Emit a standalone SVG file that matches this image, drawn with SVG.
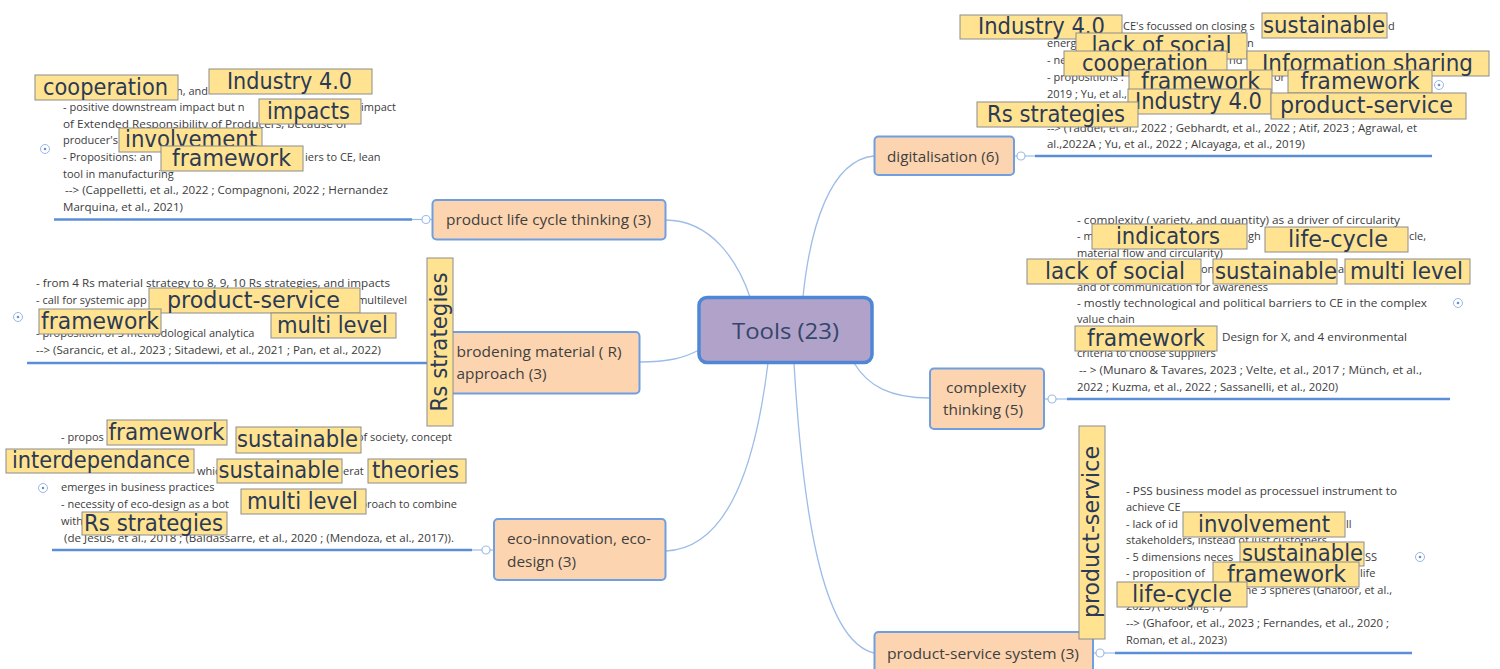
<svg xmlns="http://www.w3.org/2000/svg" width="1500" height="669" viewBox="0 0 1500 669">
<style>
.bg{fill:#ffffff}
.node rect{fill:#fcd5b0;stroke:#6f9fe0;stroke-width:2}
.node text.t{font-family:'Open Sans','Noto Sans',sans-serif;font-size:14px;fill:#3f3f3f}
.root rect{fill:#b1a2c9;stroke:#4f86d6;stroke-width:3.5}
.root text{font-family:'Open Sans','Noto Sans',sans-serif;font-size:22px;fill:#34476b}
.note{font-family:'Open Sans','Noto Sans',sans-serif;font-size:11px;fill:#3c3c3c}
.ul{stroke:#5a8fd8;stroke-width:2.5;fill:none}
.conn path{stroke:#9dbde8;stroke-width:1.3;fill:none}
.dot{fill:#fff;stroke:#9dbde8;stroke-width:1.2}
.exp circle.o{fill:#fff;stroke:#9bb8e0;stroke-width:1}
.exp circle.i{fill:#6f8fc8}
.lbl rect{fill:#ffe391;stroke:#8c8c8c;stroke-width:1}
.lbl text{font-family:'DejaVu Sans Condensed','DejaVu Sans',sans-serif;font-size:23px;fill:#2b3a55;text-anchor:middle}
</style>
<rect class="bg" x="0" y="0" width="1500" height="669"/>

<g id="connectors" class="conn">
  <path d="M665,220 C712,220 738,262 750,297"/>
  <path d="M874,156 C830,160 810,228 803,297"/>
  <path d="M640,362 C668,362 684,358 699,350"/>
  <path d="M666,551 C730,548 756,460 768,363"/>
  <path d="M930,398 C890,398 868,386 854,363"/>
  <path d="M794,363 C802,500 820,640 874,653"/>
</g>

<g id="node-plc">
  <g class="note">
    <text x="176" y="95">n, and</text>
    <text x="63" y="111">- positive downstream impact but n</text>
    <text x="396" y="111" text-anchor="end">impact</text>
    <text x="63" y="128" textLength="284" lengthAdjust="spacingAndGlyphs">of Extended Responsibility of Producers, because of</text>
    <text x="63" y="144">producer's</text>
    <text x="63" y="161">- Propositions: an</text>
    <text x="305" y="161">iers to CE, lean</text>
    <text x="63" y="178">tool in manufacturing</text>
    <text x="65" y="194" textLength="323" lengthAdjust="spacingAndGlyphs">--&gt; (Cappelletti, et al., 2022 ; Compagnoni, 2022 ; Hernandez</text>
    <text x="63" y="211" textLength="120" lengthAdjust="spacingAndGlyphs">Marquina, et al., 2021)</text>
  </g>
  <line class="ul" x1="54" y1="219.5" x2="412" y2="219.5"/>
  <line x1="412" y1="219.5" x2="432" y2="219.5" stroke="#9dbde8" stroke-width="1.2"/>
  <circle class="dot" cx="426" cy="219.5" r="4"/>
  <g class="exp"><circle class="o" cx="45" cy="149" r="4.5"/><circle class="i" cx="45" cy="149" r="1.3"/></g>
  <g class="node"><rect x="432.5" y="200" width="233" height="39.5" rx="4"/>
  <text class="t" x="446" y="225" textLength="205" lengthAdjust="spacingAndGlyphs">product life cycle thinking (3)</text></g>
</g>

<g id="node-broad">
  <g class="note">
    <text x="36" y="287" textLength="354" lengthAdjust="spacingAndGlyphs">- from 4 Rs material strategy to 8, 9, 10 Rs strategies, and impacts</text>
    <text x="36" y="304">- call for systemic app</text>
    <text x="407" y="304" text-anchor="end">multilevel</text>
    <text x="36" y="337">- proposition of 3 methodological analytica</text>
    <text x="36" y="354" textLength="345" lengthAdjust="spacingAndGlyphs">--&gt; (Sarancic, et al., 2023 ; Sitadewi, et al., 2021 ;  Pan, et al., 2022)</text>
  </g>
  <line class="ul" x1="27" y1="363" x2="430" y2="363"/>
  <g class="exp"><circle class="o" cx="18" cy="317" r="4.5"/><circle class="i" cx="18" cy="317" r="1.3"/></g>
  <g class="node"><rect x="441" y="332" width="198.5" height="61.5" rx="4"/>
  <text class="t" x="456.5" y="357" textLength="165" lengthAdjust="spacingAndGlyphs">brodening material ( R)</text>
  <text class="t" x="456.5" y="379" textLength="90" lengthAdjust="spacingAndGlyphs">approach (3)</text></g>
</g>

<g id="node-eco">
  <g class="note">
    <text x="61" y="441">- propos</text>
    <text x="452" y="441" text-anchor="end">of society, concept</text>
    <text x="197" y="475">which</text>
    <text x="343" y="475">erat</text>
    <text x="61" y="491">emerges in business practices</text>
    <text x="61" y="508">- necessity of eco-design as a bot</text>
    <text x="457" y="508" text-anchor="end">approach to combine</text>
    <text x="61" y="525">with</text>
    <text x="64" y="542" textLength="390" lengthAdjust="spacingAndGlyphs">(de Jesus, et al., 2018 ; (Baldassarre, et al., 2020 ; (Mendoza, et al., 2017)).</text>
  </g>
  <line class="ul" x1="52" y1="550" x2="472" y2="550"/>
  <line x1="472" y1="550" x2="494" y2="550" stroke="#9dbde8" stroke-width="1.2"/>
  <circle class="dot" cx="486" cy="550" r="4"/>
  <g class="exp"><circle class="o" cx="43" cy="488" r="4.5"/><circle class="i" cx="43" cy="488" r="1.3"/></g>
  <g class="node"><rect x="494" y="519" width="171.5" height="61" rx="4"/>
  <text class="t" x="507" y="544" textLength="144" lengthAdjust="spacingAndGlyphs">eco-innovation, eco-</text>
  <text class="t" x="507" y="567" textLength="69" lengthAdjust="spacingAndGlyphs">design (3)</text></g>
</g>

<g id="node-digital">
  <g class="note">
    <text x="1123" y="30">CE's focussed on closing s</text>
    <text x="1388" y="30">d</text>
    <text x="1047" y="47">energ</text>
    <text x="1247" y="47">n</text>
    <text x="1047" y="64">- ne</text>
    <text x="1229" y="64">nd</text>
    <text x="1047" y="81">- propositions :</text>
    <text x="1274" y="81">or</text>
    <text x="1047" y="98">2019 ; Yu, et al.,</text>
    <text x="1047" y="132" textLength="370" lengthAdjust="spacingAndGlyphs">--&gt; (Taddei, et al., 2022 ; Gebhardt, et al., 2022 ; Atif, 2023 ; Agrawal, et</text>
    <text x="1047" y="148" textLength="258" lengthAdjust="spacingAndGlyphs">al.,2022A ; Yu, et al., 2022 ; Alcayaga, et al., 2019)</text>
  </g>
  <line x1="1014" y1="156" x2="1036" y2="156" stroke="#9dbde8" stroke-width="1.2"/>
  <line class="ul" x1="1035" y1="156" x2="1432" y2="156"/>
  <circle class="dot" cx="1021" cy="156" r="4"/>
  <g class="exp"><circle class="o" cx="1439" cy="85" r="4.5"/><circle class="i" cx="1439" cy="85" r="1.3"/></g>
  <g class="node"><rect x="874.5" y="136.5" width="139.5" height="38.5" rx="4"/>
  <text class="t" x="887" y="162" textLength="112" lengthAdjust="spacingAndGlyphs">digitalisation (6)</text></g>
</g>

<g id="node-complex">
  <g class="note">
    <text x="1077" y="224" textLength="323" lengthAdjust="spacingAndGlyphs">- complexity ( variety, and quantity) as a driver of circularity</text>
    <text x="1077" y="240">- m</text>
    <text x="1248" y="240">gh</text>
    <text x="1409" y="240">cle,</text>
    <text x="1077" y="257">material flow and circularity)</text>
    <text x="1201" y="273">on</text>
    <text x="1338" y="273">al</text>
    <text x="1077" y="291">and of communication for awareness</text>
    <text x="1077" y="307" textLength="350" lengthAdjust="spacingAndGlyphs">- mostly technological and political barriers to CE in the complex</text>
    <text x="1077" y="323">value chain</text>
    <text x="1222" y="341" textLength="185" lengthAdjust="spacingAndGlyphs">Design for X, and 4 environmental</text>
    <text x="1077" y="357">criteria to choose suppliers</text>
    <text x="1079" y="374" textLength="343" lengthAdjust="spacingAndGlyphs">-- &gt; (Munaro &amp; Tavares, 2023 ; Velte,  et al., 2017 ; Münch,  et al.,</text>
    <text x="1077" y="391" textLength="261" lengthAdjust="spacingAndGlyphs">2022 ; Kuzma, et al., 2022 ; Sassanelli, et al., 2020)</text>
  </g>
  <line x1="1044" y1="399" x2="1068" y2="399" stroke="#9dbde8" stroke-width="1.2"/>
  <line class="ul" x1="1067" y1="399" x2="1450" y2="399"/>
  <circle class="dot" cx="1052" cy="399" r="4"/>
  <g class="exp"><circle class="o" cx="1458" cy="303" r="4.5"/><circle class="i" cx="1458" cy="303" r="1.3"/></g>
  <g class="node"><rect x="930" y="368.5" width="114" height="60.5" rx="4"/>
  <text class="t" x="986" y="393" text-anchor="middle" textLength="80" lengthAdjust="spacingAndGlyphs">complexity</text>
  <text class="t" x="983" y="415" text-anchor="middle" textLength="80" lengthAdjust="spacingAndGlyphs">thinking (5)</text></g>
</g>

<g id="node-pss">
  <g class="note">
    <text x="1126" y="495" textLength="271" lengthAdjust="spacingAndGlyphs">- PSS business model as processuel instrument to</text>
    <text x="1126" y="511">achieve CE</text>
    <text x="1126" y="528">- lack of id</text>
    <text x="1346" y="528">ll</text>
    <text x="1126" y="544">stakeholders, instead of just customers</text>
    <text x="1126" y="561">- 5 dimensions neces</text>
    <text x="1365" y="561">SS</text>
    <text x="1126" y="577">- proposition of</text>
    <text x="1360" y="577">life</text>
    <text x="1392" y="594" text-anchor="end">the 3 spheres (Ghafoor, et al.,</text>
    <text x="1126" y="610">2023) ( Boulding ? )</text>
    <text x="1126" y="627" textLength="263" lengthAdjust="spacingAndGlyphs">--&gt; (Ghafoor, et al., 2023 ; Fernandes, et al., 2020 ;</text>
    <text x="1126" y="644">Roman, et al., 2023)</text>
  </g>
  <line x1="1093" y1="653" x2="1116" y2="653" stroke="#9dbde8" stroke-width="1.2"/>
  <line class="ul" x1="1115" y1="653" x2="1412" y2="653"/>
  <circle class="dot" cx="1100" cy="653" r="4"/>
  <g class="exp"><circle class="o" cx="1420" cy="557" r="4.5"/><circle class="i" cx="1420" cy="557" r="1.3"/></g>
  <g class="node"><rect x="874.5" y="632" width="218.5" height="50" rx="4"/>
  <text class="t" x="887" y="659" textLength="192" lengthAdjust="spacingAndGlyphs">product-service system (3)</text></g>
</g>

<g id="root" class="root">
  <rect x="699" y="297.5" width="173" height="65" rx="8"/>
  <text x="785.5" y="339" text-anchor="middle" textLength="107" lengthAdjust="spacingAndGlyphs">Tools (23)</text>
</g>

<g id="tags" class="lbl">
  <g id="tag-tl-cooperation"><rect x="35" y="75" width="143" height="25"/><text x="105.5" y="95" textLength="125" lengthAdjust="spacingAndGlyphs">cooperation</text></g>
  <g id="tag-tl-industry"><rect x="209" y="69" width="163" height="25"/><text x="289.5" y="89" textLength="125" lengthAdjust="spacingAndGlyphs">Industry 4.0</text></g>
  <g id="tag-tl-impacts"><rect x="259" y="99" width="102" height="25"/><text x="308.5" y="119" textLength="83" lengthAdjust="spacingAndGlyphs">impacts</text></g>
  <g id="tag-tl-involvement"><rect x="119" y="128" width="143" height="24"/><text x="191" y="147" textLength="132" lengthAdjust="spacingAndGlyphs">involvement</text></g>
  <g id="tag-tl-framework"><rect x="161" y="146" width="142" height="25"/><text x="231.5" y="166" textLength="119" lengthAdjust="spacingAndGlyphs">framework</text></g>

  <g id="tag-ml-ps"><rect x="149" y="288" width="211" height="25"/><text x="253.5" y="308" textLength="173" lengthAdjust="spacingAndGlyphs">product-service</text></g>
  <g id="tag-ml-framework"><rect x="39" y="309" width="122" height="25"/><text x="100" y="329" textLength="118" lengthAdjust="spacingAndGlyphs">framework</text></g>
  <g id="tag-ml-multi"><rect x="271" y="313" width="125" height="25"/><text x="332.5" y="333" textLength="111" lengthAdjust="spacingAndGlyphs">multi level</text></g>
  <g id="tag-ml-rs"><rect x="427" y="258" width="26" height="168"/><text transform="translate(447,342) rotate(-90)" x="0" y="0" textLength="139" lengthAdjust="spacingAndGlyphs">Rs strategies</text></g>

  <g id="tag-bl-framework"><rect x="107" y="420" width="120" height="25"/><text x="166.5" y="440" textLength="116" lengthAdjust="spacingAndGlyphs">framework</text></g>
  <g id="tag-bl-sust1"><rect x="236" y="427" width="125" height="26"/><text x="297.5" y="447" textLength="121" lengthAdjust="spacingAndGlyphs">sustainable</text></g>
  <g id="tag-bl-interdep"><rect x="6" y="449" width="188" height="24"/><text x="101" y="468" textLength="178" lengthAdjust="spacingAndGlyphs">interdependance</text></g>
  <g id="tag-bl-sust2"><rect x="217" y="459" width="125" height="24"/><text x="279" y="478" textLength="121" lengthAdjust="spacingAndGlyphs">sustainable</text></g>
  <g id="tag-bl-theories"><rect x="368" y="459" width="98" height="24"/><text x="415.5" y="478" textLength="87" lengthAdjust="spacingAndGlyphs">theories</text></g>
  <g id="tag-bl-multi"><rect x="241" y="489" width="125" height="25"/><text x="302.5" y="509" textLength="111" lengthAdjust="spacingAndGlyphs">multi level</text></g>
  <g id="tag-bl-rs"><rect x="82" y="512" width="145" height="23"/><text x="153.5" y="531" textLength="139" lengthAdjust="spacingAndGlyphs">Rs strategies</text></g>

  <g id="tag-tr-industry1"><rect x="960" y="15" width="162" height="24"/><text x="1041.5" y="34" textLength="127" lengthAdjust="spacingAndGlyphs">Industry 4.0</text></g>
  <g id="tag-tr-sust"><rect x="1262" y="13" width="125" height="25"/><text x="1324" y="33" textLength="122" lengthAdjust="spacingAndGlyphs">sustainable</text></g>
  <g id="tag-tr-lack"><rect x="1076" y="33" width="171" height="26"/><text x="1161.5" y="53" textLength="140" lengthAdjust="spacingAndGlyphs">lack of social</text></g>
  <g id="tag-tr-coop"><rect x="1064" y="51" width="163" height="25"/><text x="1145" y="71" textLength="126" lengthAdjust="spacingAndGlyphs">cooperation</text></g>
  <g id="tag-tr-info"><rect x="1247" y="51" width="242" height="25"/><text x="1367.5" y="71" textLength="211" lengthAdjust="spacingAndGlyphs">Information sharing</text></g>
  <g id="tag-tr-framework1"><rect x="1129" y="70" width="143" height="23"/><text x="1200.5" y="89" textLength="119" lengthAdjust="spacingAndGlyphs">framework</text></g>
  <g id="tag-tr-framework2"><rect x="1288" y="70" width="144" height="23"/><text x="1360" y="89" textLength="119" lengthAdjust="spacingAndGlyphs">framework</text></g>
  <g id="tag-tr-industry2"><rect x="1128" y="89" width="143" height="25"/><text x="1198.5" y="109" textLength="127" lengthAdjust="spacingAndGlyphs">Industry 4.0</text></g>
  <g id="tag-tr-ps"><rect x="1271" y="93" width="195" height="26"/><text x="1366.5" y="113" textLength="173" lengthAdjust="spacingAndGlyphs">product-service</text></g>
  <g id="tag-tr-rs"><rect x="977" y="102" width="161" height="25"/><text x="1056" y="122" textLength="138" lengthAdjust="spacingAndGlyphs">Rs strategies</text></g>

  <g id="tag-cr-indicators"><rect x="1092" y="224" width="155" height="25"/><text x="1168" y="244" textLength="104" lengthAdjust="spacingAndGlyphs">indicators</text></g>
  <g id="tag-cr-lifecycle"><rect x="1265" y="227" width="143" height="25"/><text x="1338" y="247" textLength="100" lengthAdjust="spacingAndGlyphs">life-cycle</text></g>
  <g id="tag-cr-lack"><rect x="1027" y="259" width="174" height="25"/><text x="1115" y="279" textLength="140" lengthAdjust="spacingAndGlyphs">lack of social</text></g>
  <g id="tag-cr-sust"><rect x="1213" y="259" width="124" height="25"/><text x="1276" y="279" textLength="122" lengthAdjust="spacingAndGlyphs">sustainable</text></g>
  <g id="tag-cr-multi"><rect x="1345" y="259" width="125" height="25"/><text x="1406.5" y="279" textLength="113" lengthAdjust="spacingAndGlyphs">multi level</text></g>
  <g id="tag-cr-framework"><rect x="1075" y="326" width="142" height="25"/><text x="1146" y="346" textLength="118" lengthAdjust="spacingAndGlyphs">framework</text></g>

  <g id="tag-br-ps"><rect x="1079" y="426" width="26" height="213"/><text transform="translate(1099,532) rotate(-90)" x="0" y="0" textLength="172" lengthAdjust="spacingAndGlyphs">product-service</text></g>
  <g id="tag-br-involvement"><rect x="1183" y="512" width="162" height="25"/><text x="1264" y="532" textLength="132" lengthAdjust="spacingAndGlyphs">involvement</text></g>
  <g id="tag-br-sust"><rect x="1240" y="542" width="124" height="24"/><text x="1302.5" y="561" textLength="121" lengthAdjust="spacingAndGlyphs">sustainable</text></g>
  <g id="tag-br-framework"><rect x="1213" y="562" width="146" height="25"/><text x="1286.5" y="582" textLength="119" lengthAdjust="spacingAndGlyphs">framework</text></g>
  <g id="tag-br-lifecycle"><rect x="1117" y="582" width="130" height="25"/><text x="1182" y="602" textLength="100" lengthAdjust="spacingAndGlyphs">life-cycle</text></g>
</g>
</svg>
